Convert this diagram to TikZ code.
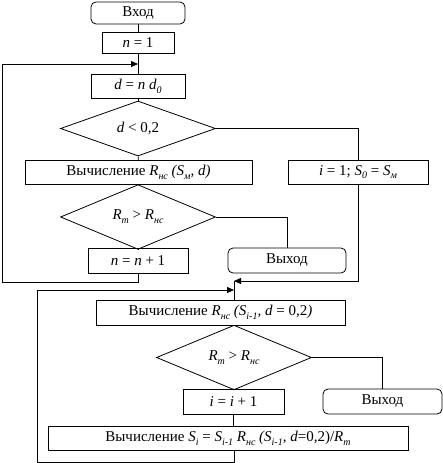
\documentclass[tikz,border=0pt]{standalone}
\usepackage{fontspec}
\setmainfont{Liberation Serif}
\usetikzlibrary{arrows.meta, shapes.geometric, positioning, calc}
\newcommand{\idx}[1]{\raisebox{-0.55ex}{\fontsize{10}{12}\selectfont\itshape #1}}
\newcommand{\var}[1]{\textit{#1}}

\begin{document}
\begin{tikzpicture}[
    x=1pt, y=-1pt,
    font=\fontsize{15}{17}\selectfont,
    box/.style={rectangle, draw, line width=0.8pt, minimum height=24pt,
                inner sep=2pt, align=center},
    term/.style={box, rounded corners=5pt},
    cond/.style={diamond, draw, line width=0.8pt, minimum width=155pt,
                 minimum height=41pt, inner sep=0pt},
    line/.style={draw, line width=0.8pt},
    arr/.style={line, -{Triangle[length=7pt, width=6pt]}}
  ]
  \useasboundingbox (0,0) rectangle (443,463);

  % First loop
  \node[term, minimum width=94pt, minimum height=22pt] (start) at (138,13) {Вход};
  \node[box, minimum width=72pt, minimum height=21pt] (n1) at (138,42.5) {\var{n} = 1};
  \coordinate (j1) at (138,64);
  \node[box, minimum width=94pt] (dn) at (138,86) {\var{d} = \var{n d}\idx{0}};
  \node[cond] (dia1) at (138,128.5) {\var{d} < 0,2};
  \node[box, minimum width=227pt] (calc1) at (138.5,172)
        {Вычисление \var{R}\idx{нс} \var{(S}\idx{м}\var{, d)}};
  \node[box, minimum width=140pt] (init) at (358,172)
        {\var{i} = 1; \var{S}\idx{0} = \var{S}\idx{м}};
  \node[cond] (dia2) at (138,217) {\var{R}\idx{т} > \var{R}\idx{нс}};
  \node[box, minimum width=100pt, minimum height=25pt] (nn1) at (138,260.5) {\var{n} = \var{n} + 1};
  \node[term, minimum width=118pt, minimum height=25pt] (exit1) at (287,260.5) {Выход};
  \coordinate (loopA) at (2,282);

  % Second loop
  \coordinate (j2) at (234,281);
  \coordinate (j3) at (234,290);
  \node[box, minimum width=249pt, minimum height=25pt] (calc2) at (220.5,312.5)
        {Вычисление \var{R}\idx{нс} \var{(S}\idx{i-1}\var{, d} = 0,2\var{)}};
  \node[cond] (dia3) at (234,357.5) {\var{R}\idx{т} > \var{R}\idx{нс}};
  \node[box, minimum width=101pt, minimum height=25pt] (inc) at (233.5,401.5) {\var{i} = \var{i} + 1};
  \node[term, minimum width=119pt, minimum height=25pt] (exit2) at (382.5,401.5) {Выход};
  \node[box, minimum width=360pt] (calc3) at (228,438)
        {Вычисление \var{S}\idx{i} = \var{S}\idx{i-1} \var{R}\idx{нс} \var{(S}\idx{i-1}\var{, d}=0,2)/\var{R}\idx{т}};
  \coordinate (loopB) at (37,462);

  % Connectors
  \draw[line] (start) -- (n1);
  \draw[line] (n1) -- (dn);
  \draw[line] (dn) -- (dia1);
  \draw[line] (dia1) -- (calc1);
  \draw[line] (calc1) -- (dia2);
  \draw[line] (dia2) -- (nn1);
  \draw[arr] (nn1.south) |- (loopA) |- (j1);
  \draw[line] (dia1.east) -| (init.north);
  \draw[line] (dia2.east) -| (exit1.north);
  \draw[arr] (init.south) |- (j2);
  \draw[line] (j2) -- (j2 |- calc2.north);
  \draw[line] (j3 |- calc2.south) -- (dia3);
  \draw[line] (dia3) -- (inc);
  \draw[line] (dia3.east) -| (exit2.north);
  \draw[line] (inc) -- (inc |- calc3.north);
  \draw[arr] (j3 |- calc3.south) |- (loopB) |- (j3);
\end{tikzpicture}
\end{document}
